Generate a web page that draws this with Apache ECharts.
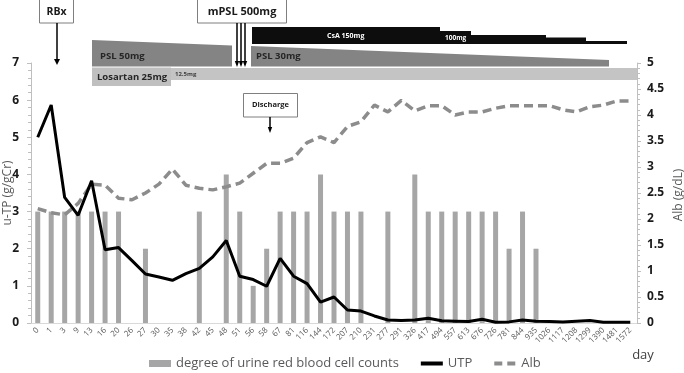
<!DOCTYPE html>
<html>
<head>
<meta charset="utf-8">
<script src="https://cdn.jsdelivr.net/npm/echarts@6/dist/echarts.min.js"></script>
<style>
  html, body { margin: 0; padding: 0; background: #fff; }
  #chart { width: 684px; height: 373px; }
</style>
</head>
<body>
<div id="chart"></div>
<script>
// x categories (days after onset)
const days = ['0', '1', '3', '9', '13', '16', '20', '26', '27', '30', '35', '38', '42', '45', '48',
  '51', '56', '58', '67', '81', '116', '144', '172', '207', '210', '231', '277', '291', '326',
  '417', '494', '557', '613', '676', '726', '781', '844', '935', '1026', '1117', '1208', '1299',
  '1390', '1481', '1572'];

// degree of urine red blood cell counts (left axis)
const rbcDegree = [3, 3, 3, 3, 3, 3, 3, null, 2, null, null, null, 3, null, 4,
  3, 1, 2, 3, 3, 3, 4, 3, 3, 3, null, 3, null, 4,
  3, 3, 3, 3, 3, 3, 2, 3, 2, null, null, null, null,
  null, null, null];

// urinary total protein, g/gCr (left axis)
const utp = [5.0, 5.87, 3.38, 2.9, 3.83, 1.97, 2.03, 1.68, 1.32, 1.24, 1.15, 1.33, 1.47, 1.78, 2.22,
  1.26, 1.17, 0.99, 1.74, 1.26, 1.06, 0.56, 0.7, 0.35, 0.32, 0.19, 0.08, 0.07, 0.08,
  0.13, 0.06, 0.05, 0.04, 0.1, 0.02, 0.03, 0.08, 0.05, 0.04, 0.03, 0.05, 0.07,
  0.02, 0.02, 0.02];

// serum albumin, g/dL (right axis)
const alb = [2.2, 2.12, 2.08, 2.3, 2.67, 2.65, 2.4, 2.37, 2.5, 2.67, 2.96, 2.65, 2.59, 2.56, 2.62,
  2.69, 2.88, 3.07, 3.07, 3.17, 3.47, 3.58, 3.47, 3.78, 3.87, 4.19, 4.06, 4.28, 4.08,
  4.18, 4.18, 4.0, 4.06, 4.06, 4.13, 4.18, 4.18, 4.18, 4.18, 4.1, 4.06, 4.16,
  4.19, 4.27, 4.27];

const FONT = '"Open Sans", "Noto Sans", sans-serif';

function txt(text, x, y, size, opts) {
  opts = opts || {};
  return {
    type: 'text', z: 110,
    x: x, y: y, rotation: opts.rotation || 0,
    style: {
      text, x: 0, y: 0,
      fontSize: size, fontWeight: opts.weight || 'bold', fontFamily: FONT,
      fill: opts.fill || '#1a1a1a',
      align: opts.align || 'left', verticalAlign: 'middle'
    }
  };
}

function arrow(x, y1, y2, w) {
  return [
    { type: 'line', z: 105, shape: { x1: x, y1: y1, x2: x, y2: y2 - 4 }, style: { stroke: '#000', lineWidth: 1.5 } },
    { type: 'polygon', z: 105, shape: { points: [[x - w, y2 - 6], [x + w, y2 - 6], [x, y2]] }, style: { fill: '#000' } }
  ];
}

const graphics = [
  // RBx
  { type: 'rect', z: 100, shape: { x: 39.5, y: -0.5, width: 34, height: 23.5 }, style: { fill: '#fff', stroke: '#7f7f7f', lineWidth: 1 } },
  txt('RBx', 56.5, 12, 10.5, { align: 'center' }),
  ...arrow(57, 23, 65, 3),
  // mPSL pulse
  { type: 'rect', z: 100, shape: { x: 197.5, y: -0.5, width: 89, height: 23.5 }, style: { fill: '#fff', stroke: '#7f7f7f', lineWidth: 1 } },
  txt('mPSL 500mg', 242, 12, 11, { align: 'center' }),
  ...arrow(237, 23, 67, 2.2),
  ...arrow(241, 23, 67, 2.2),
  ...arrow(245, 23, 67, 2.2),
  // CsA
  { type: 'polygon', z: 100, shape: { points: [[252, 27], [440, 27], [440, 31], [471, 31], [471, 35], [546, 35],
    [546, 37.5], [586, 37.5], [586, 41], [627, 41], [627, 44], [252, 44]] }, style: { fill: '#0d0d0d' } },
  txt('CsA 150mg', 327, 35.5, 7, { fill: '#fff' }),
  txt('100mg', 445, 38.5, 6.5, { fill: '#fff' }),
  // PSL
  { type: 'polygon', z: 100, shape: { points: [[92, 40], [232, 45.5], [232, 66.5], [92, 66.5]] }, style: { fill: '#848484' } },
  txt('PSL 50mg', 100, 56.5, 9.5, { fill: '#262626' }),
  { type: 'polygon', z: 100, shape: { points: [[251, 46], [609, 60], [609, 66.5], [251, 66.5]] }, style: { fill: '#848484' } },
  txt('PSL 30mg', 256, 56.5, 9.5, { fill: '#262626' }),
  // Losartan
  { type: 'rect', z: 100, shape: { x: 171, y: 68, width: 466, height: 12 }, style: { fill: '#c4c4c4' } },
  { type: 'rect', z: 101, shape: { x: 92, y: 67.5, width: 79, height: 18.5 }, style: { fill: '#bfbfbf' } },
  txt('Losartan 25mg', 97, 77, 9.5, { fill: '#262626' }),
  txt('12.5mg', 175, 74, 6, { fill: '#404040' }),
  // Discharge
  { type: 'rect', z: 100, shape: { x: 243.5, y: 93.5, width: 54, height: 23.5 }, style: { fill: '#fff', stroke: '#7f7f7f', lineWidth: 1 } },
  txt('Discharge', 270.5, 105, 7.5, { align: 'center' }),
  ...arrow(270, 117, 133, 2.2),
  // axis titles
  txt('day', 643, 355, 13, { weight: 'normal', fill: '#404040', align: 'center' }),
  txt('u-TP (g/gCr)', 8, 193, 12, { weight: 'normal', fill: '#595959', align: 'center', rotation: Math.PI / 2 }),
  txt('Alb (g/dL)', 679, 195, 12, { weight: 'normal', fill: '#595959', align: 'center', rotation: Math.PI / 2 })
];

const chart = echarts.init(document.getElementById('chart'), null, { renderer: 'canvas' });

chart.setOption({
  animation: false,
  backgroundColor: '#fff',
  textStyle: { fontFamily: FONT },
  grid: { left: 31, right: 47, top: 63, bottom: 50, containLabel: false, outerBoundsMode: 'none' },
  legend: {
    left: 149, top: 357, padding: 0,
    itemWidth: 22, itemHeight: 7, itemGap: 20,
    textStyle: { fontSize: 13, color: '#595959', fontFamily: FONT },
    data: [
      { name: 'degree of urine red blood cell counts', icon: 'rect' },
      { name: 'UTP', itemStyle: { opacity: 0 }, lineStyle: { width: 4 } },
      { name: 'Alb', itemStyle: { opacity: 0 }, lineStyle: { width: 4, type: [8, 5] } }
    ]
  },
  xAxis: {
    type: 'category',
    data: days,
    boundaryGap: true,
    axisLine: { lineStyle: { color: '#d9d9d9', width: 1 } },
    axisTick: { show: false },
    axisLabel: { interval: 0, rotate: 45, fontSize: 8, color: '#595959', margin: 6 },
    splitLine: { show: false }
  },
  yAxis: [
    {
      type: 'value', min: 0, max: 7, interval: 1,
      axisLine: { show: true, lineStyle: { color: '#bfbfbf' } },
      axisTick: { show: true, length: 4, lineStyle: { color: '#bfbfbf' } },
      minorTick: { show: true, splitNumber: 5, length: 3, lineStyle: { color: '#bfbfbf' } },
      axisLabel: { fontSize: 12, fontWeight: 'bold', color: '#1a1a1a', margin: 12 },
      splitLine: { show: false }
    },
    {
      type: 'value', min: 0, max: 5, interval: 0.5, position: 'right',
      axisLine: { show: true, lineStyle: { color: '#bfbfbf' } },
      axisTick: { show: true, length: 4, lineStyle: { color: '#bfbfbf' } },
      minorTick: { show: true, splitNumber: 5, length: 3, lineStyle: { color: '#bfbfbf' } },
      axisLabel: { fontSize: 12, fontWeight: 'bold', color: '#1a1a1a', margin: 10 },
      splitLine: { show: false }
    }
  ],
  series: [
    {
      name: 'degree of urine red blood cell counts',
      type: 'bar',
      yAxisIndex: 0,
      data: rbcDegree,
      barWidth: 5,
      itemStyle: { color: '#a6a6a6' },
      z: 1
    },
    {
      name: 'UTP',
      type: 'line',
      yAxisIndex: 0,
      data: utp,
      symbol: 'none',
      color: '#000',
      lineStyle: { color: '#000', width: 3 },
      z: 4
    },
    {
      name: 'Alb',
      type: 'line',
      yAxisIndex: 1,
      data: alb,
      symbol: 'none',
      color: '#8c8c8c',
      lineStyle: { color: '#8c8c8c', width: 3.5, type: [9, 5] },
      z: 3
    }
  ],
  graphic: { elements: graphics }
});
</script>
</body>
</html>
